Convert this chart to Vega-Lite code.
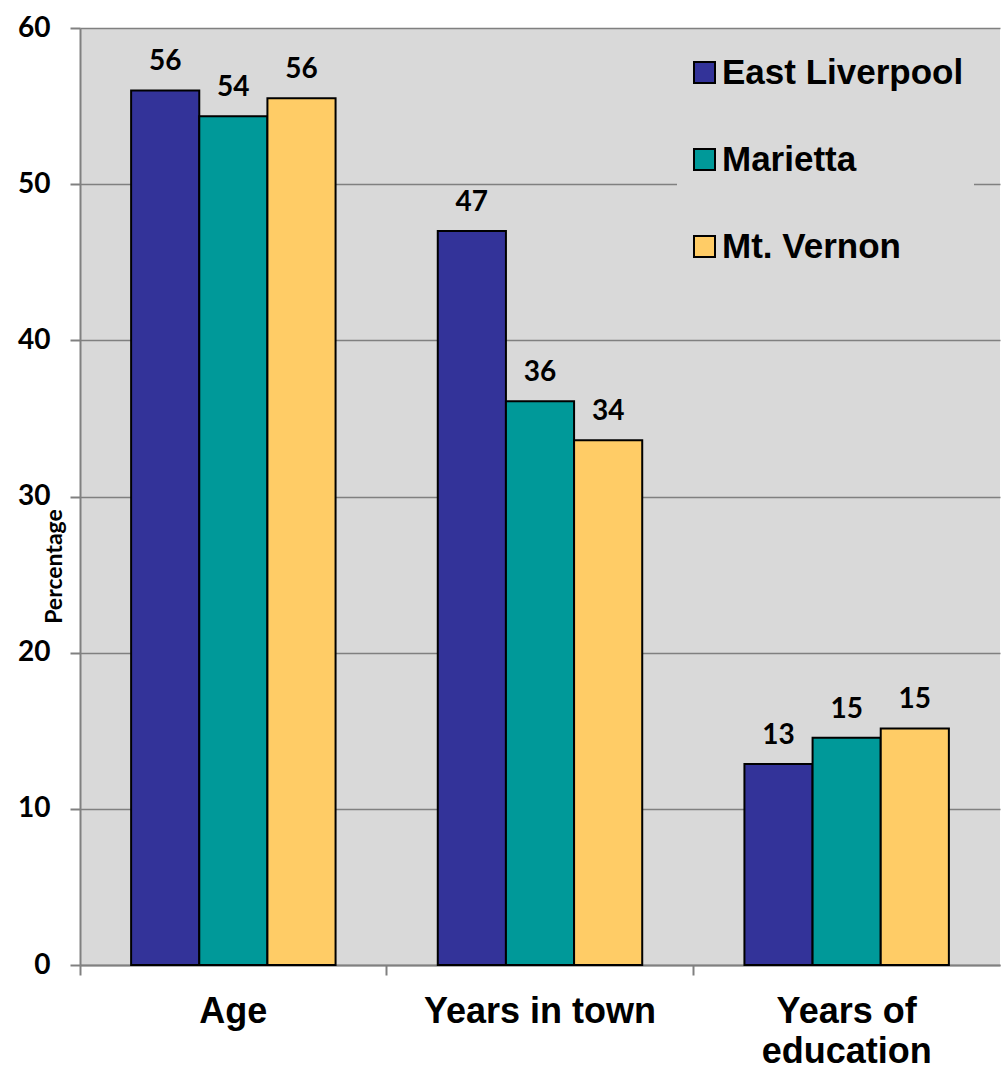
{
  "$schema": "https://vega.github.io/schema/vega-lite/v6.json",
  "width": 920,
  "height": 937,
  "autosize": {"type": "none"},
  "padding": {"left": 80, "top": 28, "right": 7, "bottom": 108},
  "background": "white",
  "config": {
    "view": {"fill": "#d9d9d9", "stroke": null},
    "axis": {"labelColor": "black", "titleColor": "black"}
  },
  "data": {
    "values": [
      {"measure": "Age", "town": "East Liverpool", "value": 56.0},
      {"measure": "Age", "town": "Marietta", "value": 54.35},
      {"measure": "Age", "town": "Mt. Vernon", "value": 55.5},
      {"measure": "Years in town", "town": "East Liverpool", "value": 47.0},
      {"measure": "Years in town", "town": "Marietta", "value": 36.1},
      {"measure": "Years in town", "town": "Mt. Vernon", "value": 33.6},
      {"measure": "Years of education", "town": "East Liverpool", "value": 12.87},
      {"measure": "Years of education", "town": "Marietta", "value": 14.55},
      {"measure": "Years of education", "town": "Mt. Vernon", "value": 15.15}
    ]
  },
  "encoding": {
    "xOffset": {"field": "town", "type": "nominal", "sort": ["East Liverpool", "Marietta", "Mt. Vernon"], "scale": {"paddingInner": 0, "paddingOuter": 0}},
    "y": {
      "field": "value", "type": "quantitative",
      "scale": {"domain": [0, 60], "nice": false},
      "axis": {
        "values": [0, 10, 20, 30, 40, 50, 60],
        "grid": true, "gridColor": "#808080", "gridWidth": 1.5,
        "domainColor": "#808080", "domainWidth": 2,
        "tickColor": "#808080", "tickSize": 10, "tickWidth": 2,
        "labelFont": "Lato", "labelFontWeight": "bold", "labelFontSize": 28, "labelPadding": 20,
        "title": "Percentage", "titleFont": "Lato", "titleFontWeight": "bold", "titleFontSize": 23,
        "titleAngle": -90, "titleX": -26, "titleY": 538, "titleAlign": "center", "titleBaseline": "middle"
      }
    }
  },
  "resolve": {"axis": {"x": "independent"}},
  "layer": [
    {
      "mark": {"type": "bar", "stroke": "black", "strokeWidth": 2},
      "encoding": {
        "x": {
          "field": "measure", "type": "nominal",
          "sort": ["Age", "Years in town", "Years of education"],
          "scale": {"paddingInner": 0.3333, "paddingOuter": 0.1667},
          "axis": {
            "orient": "bottom",
            "title": null, "labels": false, "bandPosition": -0.25,
            "domainColor": "#808080", "domainWidth": 2,
            "tickColor": "#808080", "tickSize": 10, "tickWidth": 2
          }
        },
        "color": {
          "field": "town", "type": "nominal",
          "sort": ["East Liverpool", "Marietta", "Mt. Vernon"],
          "scale": {"domain": ["East Liverpool", "Marietta", "Mt. Vernon"], "range": ["#333399", "#009999", "#ffcc66"]},
          "legend": {
            "title": null, "orient": "none", "legendX": 597, "legendY": 17,
            "fillColor": "#d9d9d9", "padding": 10,
            "symbolType": "square", "symbolSize": 441, "symbolStrokeColor": "black", "symbolStrokeWidth": 2, "symbolOpacity": 1,
            "labelFont": "Liberation Sans", "labelFontWeight": "bold", "labelFontSize": 35, "labelColor": "black",
            "labelOffset": 0, "rowPadding": 51, "labelLimit": 400
          }
        }
      }
    },
    {
      "mark": {"type": "text", "baseline": "bottom", "dy": -14, "font": "Lato", "fontWeight": "bold", "fontSize": 28, "color": "black"},
      "encoding": {
        "x": {
          "field": "measure", "type": "nominal",
          "sort": ["Age", "Years in town", "Years of education"],
          "axis": {
            "orient": "bottom",
            "title": null, "ticks": false, "domain": false,
            "labelFont": "Liberation Sans", "labelFontWeight": "bold", "labelFontSize": 36,
            "labelPadding": 29, "labelLineHeight": 40, "labelAngle": 0, "labelLimit": 400,
            "labelExpr": "datum.label == 'Years of education' ? ['Years of', 'education'] : datum.label"
          }
        },
        "text": {"field": "value", "type": "quantitative", "format": ".0f"}
      }
    }
  ]
}
